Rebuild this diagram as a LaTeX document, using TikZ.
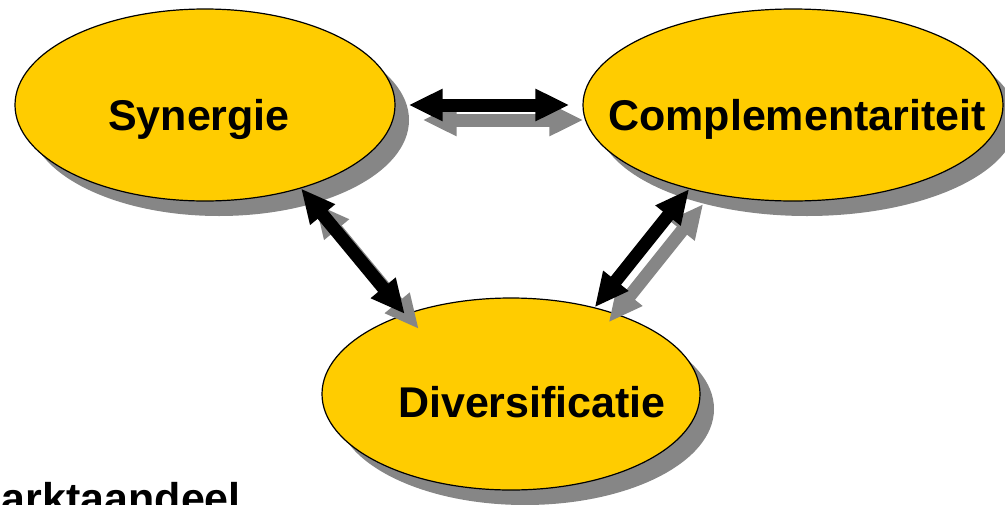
\documentclass[tikz,border=0pt]{standalone}
\usepackage{fontspec}
\setmainfont{Liberation Sans}
\usetikzlibrary{shapes.geometric,shadows,arrows.meta}
\definecolor{gold}{RGB}{255,204,0}
\definecolor{shade}{RGB}{134,134,134}
\begin{document}
\begin{tikzpicture}[x=1pt,y=-1pt,
  bubble/.style={ellipse, draw=black, line width=1.2pt, fill=gold, inner sep=0pt,
    minimum width=380pt, minimum height=192pt,
    drop shadow={shadow xshift=14pt, shadow yshift=-15pt, fill=shade, opacity=1}},
  bigtext/.style={font=\fontsize{43}{50}\selectfont\bfseries, inner sep=0pt, anchor=base},
  dbl/.style={line width=13pt, draw=black,
    {Triangle[width=30pt,length=34pt]}-{Triangle[width=30pt,length=34pt]}},
  dblshadow/.style={dbl, draw=shade, transform canvas={xshift=14pt,yshift=-15pt}}]
\useasboundingbox (0,0) rectangle (1005,504);
\clip (0,0) rectangle (1005,504);
\node[bubble] (syn) at (205,105) {};
\node[bubble, minimum width=420pt] (comp) at (793,105) {};
\node[bubble, minimum width=378pt] (div) at (511,394) {};
\node[bigtext] (tsyn) at (199,130) {Synergie};
\node[bigtext] (tcomp) at (797,130) {Complementariteit};
\node[bigtext] (tdiv) at (532,417) {Diversificatie};
\node[bigtext, anchor=base east] (tmark) at (241,513) {Marktaandeel};
\draw[dblshadow] ([xshift=13pt]syn.east) -- ([xshift=-13pt]comp.west);
\draw[dblshadow] (syn.-41) -- (div.143);
\draw[dblshadow] (comp.219) -- (div.46);
\draw[dbl] ([xshift=13pt]syn.east) -- ([xshift=-13pt]comp.west);
\draw[dbl] (syn.-41) -- (div.143);
\draw[dbl] (comp.219) -- (div.46);
\end{tikzpicture}
\end{document}
